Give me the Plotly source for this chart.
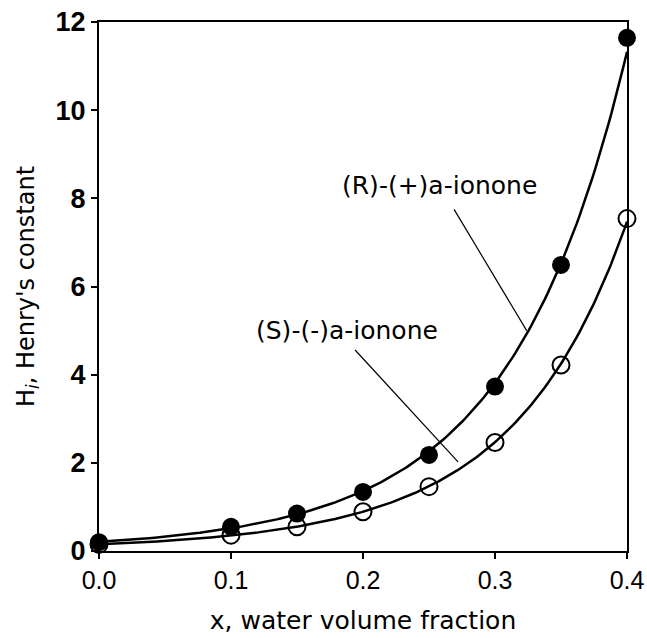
import numpy as np
import plotly.graph_objects as go

x_vals = [0.0, 0.1, 0.15, 0.2, 0.25, 0.3, 0.35, 0.4]
h_R = [0.20, 0.55, 0.85, 1.34, 2.18, 3.73, 6.49, 11.64]
h_S = [0.15, 0.36, 0.55, 0.89, 1.46, 2.46, 4.22, 7.54]
x_ticks = [0.0, 0.1, 0.2, 0.3, 0.4]
x_ticklabels = ["0.0", "0.1", "0.2", "0.3", "0.4"]
y_ticks = [0, 2, 4, 6, 8, 10, 12]
y_ticklabels = ["0", "2", "4", "6", "8", "10", "12"]


def fit_curve(xs, ys):
    c = np.polyfit(xs, np.log(ys), 2)
    xx = np.linspace(min(xs), max(xs), 200)
    return xx, np.exp(np.polyval(c, xx))


fig = go.Figure()
for ys in [h_R, h_S]:
    xx, yy = fit_curve(x_vals, ys)
    fig.add_trace(go.Scatter(x=xx, y=yy, mode="lines",
                             line=dict(color="black", width=2.5),
                             cliponaxis=False, showlegend=False, hoverinfo="skip"))
for ys, filled in [(h_S, False), (h_R, True)]:
    fig.add_trace(go.Scatter(
        x=x_vals, y=ys, mode="markers", cliponaxis=False, showlegend=False,
        marker=dict(symbol="circle" if filled else "circle-open",
                    size=16 if filled else 17, color="black",
                    line=dict(color="black", width=2))))

arial = "Liberation Sans, Arial, sans-serif"
wide = "DejaVu Sans, sans-serif"
fig.add_annotation(x=0.258, y=8.3, xref="x", yref="y", text="(R)-(+)a-ionone",
                   showarrow=False, font=dict(size=25, color="black", family=wide))
fig.add_annotation(x=0.188, y=5.0, xref="x", yref="y", text="(S)-(-)a-ionone",
                   showarrow=False, font=dict(size=25, color="black", family=wide))
# leader lines
fig.add_shape(type="line", xref="x", yref="y", x0=0.269, y0=7.75, x1=0.324, y1=5.0,
              line=dict(color="black", width=1.2))
fig.add_shape(type="line", xref="x", yref="y", x0=0.194, y0=4.56, x1=0.272, y1=2.02,
              line=dict(color="black", width=1.2))

fig.update_xaxes(range=[0, 0.4], tickvals=x_ticks, ticktext=x_ticklabels,
                 showline=True, linecolor="black", linewidth=2, mirror=True,
                 ticks="outside", ticklen=6, tickwidth=2, tickcolor="black",
                 showgrid=False, zeroline=False, automargin=False,
                 tickfont=dict(size=25, color="black", family=arial),
                 title=dict(text="x, water volume fraction", standoff=18,
                            font=dict(size=25, color="black", family=wide)))
fig.update_yaxes(range=[0, 12], tickvals=y_ticks, ticktext=y_ticklabels,
                 showline=True, linecolor="black", linewidth=2, mirror=True,
                 ticks="outside", ticklen=6, tickwidth=2, tickcolor="black",
                 showgrid=False, zeroline=False, automargin=False,
                 tickfont=dict(size=27, color="black", family=arial, weight="bold"),
                 title=dict(text="H<sub><i>i</i></sub>, Henry's constant", standoff=14,
                            font=dict(size=24, color="black", family=wide)))
fig.update_layout(width=647, height=638, plot_bgcolor="white", paper_bgcolor="white",
                  margin=dict(l=99, r=20, t=22, b=87))
fig.write_html("out.html")
